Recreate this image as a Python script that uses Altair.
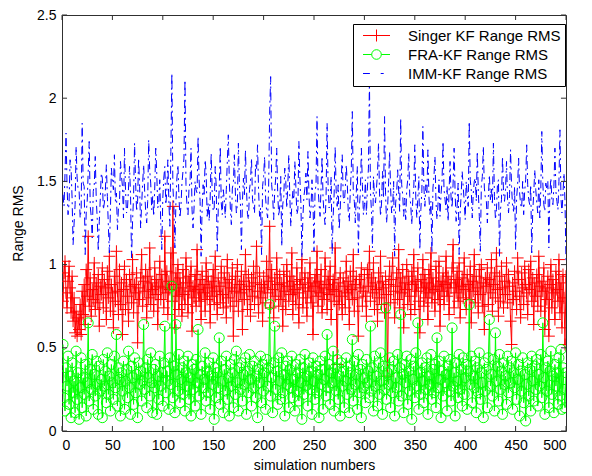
import altair as alt
import pandas as pd

imm = [
1.42,1.35,1.55,1.79,1.48,1.30,1.37,1.63,1.58,1.40,1.12,1.25,1.36,1.71,1.52,1.45,1.44,1.28,1.33,1.85,
1.49,1.47,1.06,1.31,1.38,1.56,1.74,1.35,1.29,1.16,1.44,1.48,1.65,1.39,1.27,1.08,1.26,1.40,1.55,1.52,
1.33,1.37,1.44,1.60,1.41,1.23,1.07,1.32,1.58,1.50,1.45,1.66,1.38,1.43,1.21,1.34,1.35,1.62,1.53,1.47,
1.28,1.70,1.45,1.31,1.34,1.46,1.59,1.42,1.04,1.26,1.41,1.73,1.50,1.32,1.38,1.64,1.47,1.22,1.36,1.49,
1.60,1.44,1.32,1.25,1.38,1.75,1.57,1.49,1.33,1.41,1.29,1.46,1.70,1.55,1.34,1.37,1.51,1.24,1.09,1.40,
1.52,1.59,1.36,1.44,1.63,1.38,1.23,1.68,2.15,1.47,1.35,1.10,1.37,1.52,1.60,1.41,1.28,1.35,1.49,1.56,
1.64,2.11,1.48,1.35,1.30,1.46,1.49,1.70,1.33,1.22,1.34,1.50,1.45,1.43,1.77,1.51,1.38,1.05,1.34,1.48,
1.41,1.63,1.55,1.29,1.37,1.26,1.40,1.67,1.43,1.32,1.34,1.59,1.47,1.08,1.33,1.46,1.71,1.37,1.30,1.45,
1.39,1.28,1.45,1.62,1.78,1.50,1.34,1.24,1.46,1.49,1.66,1.43,1.31,1.36,1.73,1.48,1.37,1.09,1.38,1.52,
1.42,1.69,1.46,1.30,1.27,1.45,1.50,1.64,1.39,1.35,1.31,1.60,1.57,1.72,1.45,1.29,1.34,1.06,1.47,1.53,
1.65,1.40,1.32,1.28,1.47,1.91,2.13,1.48,1.41,1.27,1.44,1.52,1.70,1.43,1.29,1.35,1.53,1.11,1.36,1.41,
1.58,1.50,1.34,1.47,1.66,1.41,1.23,1.36,1.44,1.39,1.62,1.47,1.30,1.33,1.74,1.52,1.37,1.04,1.29,1.41,
1.46,1.55,1.39,1.68,1.42,1.28,1.34,1.51,1.37,1.08,1.43,1.48,1.89,1.46,1.37,1.29,1.46,1.65,1.40,1.30,
1.24,1.42,1.85,1.47,1.34,1.38,1.53,1.06,1.29,1.43,1.71,1.44,1.35,1.48,1.21,1.33,1.50,1.66,1.41,1.37,
1.45,1.60,1.49,1.31,1.26,1.44,1.57,1.92,1.42,1.38,1.25,1.44,1.59,1.07,1.35,1.43,1.70,1.48,1.30,1.36,
1.51,1.30,1.46,1.58,2.12,1.44,1.32,1.10,1.53,1.41,1.37,1.46,1.55,1.73,1.43,1.29,1.37,1.56,1.40,1.89,
1.42,1.25,1.34,1.49,1.68,1.46,1.31,1.35,1.50,1.05,1.37,1.43,1.57,1.44,1.32,1.88,1.48,1.42,1.29,1.40,
1.27,1.45,1.51,1.67,1.41,1.36,1.24,1.39,1.46,1.72,1.40,1.28,1.40,1.53,1.09,1.33,1.44,1.83,1.47,1.35,
1.48,1.42,1.69,1.41,1.30,1.38,1.07,1.46,1.53,1.65,1.38,1.27,1.36,1.51,1.29,1.42,1.50,1.74,1.45,1.39,
1.33,1.47,1.26,1.44,1.62,1.40,1.34,1.49,1.70,1.43,1.26,1.35,1.49,1.06,1.31,1.42,1.56,1.47,1.38,1.27,
1.50,1.42,1.35,1.86,1.51,1.45,1.28,1.43,1.50,1.52,1.38,1.68,1.44,1.29,1.08,1.47,1.53,1.71,1.46,1.40,
1.38,1.25,1.41,1.54,1.39,1.46,1.36,1.73,1.41,1.27,1.33,1.48,1.51,1.05,1.33,1.39,1.65,1.44,1.38,1.45,
1.62,1.39,1.31,1.42,1.69,1.47,1.35,1.32,1.47,1.09,1.40,1.48,1.64,1.43,1.36,1.34,1.50,1.30,1.44,1.51,
1.72,1.48,1.39,1.36,1.48,1.07,1.32,1.43,1.57,1.45,1.37,1.31,1.51,1.28,1.45,1.80,1.49,1.36,1.32,1.49,
1.45,1.50,1.10,1.43,1.52,1.39,1.36,1.47,1.70,1.44,1.38,1.33,1.50,1.81,1.40,1.31,1.43,1.55,1.38,1.02,
]

singer = [
0.78,0.95,1.02,0.83,0.74,0.90,0.99,0.86,0.71,0.93,0.66,0.80,0.59,0.72,0.57,0.68,0.61,0.76,0.58,0.84,
0.70,0.88,0.64,0.97,0.81,1.17,0.75,0.92,0.69,0.85,0.79,1.01,0.73,0.89,0.77,0.94,0.63,0.87,0.82,0.98,
0.74,0.91,0.86,0.67,0.96,0.80,1.05,0.72,0.88,0.83,0.62,0.93,0.78,1.08,0.84,0.70,0.97,0.76,0.89,0.58,
0.85,0.99,0.73,0.91,0.81,0.66,0.94,0.87,0.77,1.03,0.71,0.88,0.83,0.95,0.53,0.86,0.79,0.92,1.06,0.75,
0.90,0.84,0.97,0.68,0.93,0.80,1.10,0.76,0.89,0.85,0.72,0.98,0.82,0.91,0.64,0.87,1.02,0.79,0.94,0.86,
0.74,1.17,0.83,0.96,0.70,0.90,0.85,1.07,0.78,1.35,0.88,0.62,0.95,0.81,1.00,0.73,0.92,0.86,0.69,0.97,
0.82,0.76,1.04,0.89,0.71,0.93,0.84,0.99,0.60,0.87,0.80,0.94,0.75,1.09,0.85,0.78,0.91,0.67,0.96,0.83,
0.88,0.72,1.01,0.79,0.93,0.86,0.65,0.90,0.81,0.97,0.76,1.05,0.84,0.70,0.92,0.87,0.77,0.99,0.82,0.74,
0.95,0.89,0.68,1.03,0.80,0.91,0.75,0.86,0.98,0.57,0.84,0.93,0.78,1.00,0.72,0.88,0.83,0.96,0.61,0.90,
0.79,1.06,0.85,0.73,0.94,0.87,0.69,0.92,0.81,0.99,0.76,0.89,1.11,0.84,0.71,0.95,0.80,0.88,0.66,0.93,
0.86,0.77,1.02,0.83,0.90,1.23,0.74,0.97,0.85,0.68,0.92,0.81,1.04,0.88,0.75,0.94,0.79,0.89,0.63,0.96,
0.84,0.73,1.00,0.87,0.78,0.93,0.82,1.07,0.70,0.90,0.85,0.76,0.98,0.83,0.65,0.91,0.88,1.03,0.74,0.86,
0.95,0.80,0.69,0.92,0.84,1.01,0.77,0.89,0.58,0.87,0.94,0.81,1.08,0.75,0.90,0.83,0.97,0.71,0.86,0.79,
1.04,0.88,0.73,0.93,0.82,0.99,0.67,0.85,0.91,0.78,1.10,0.84,0.40,0.89,0.76,0.95,0.81,0.70,0.92,0.87,
0.74,1.02,0.83,0.90,0.64,0.96,0.85,0.79,1.06,0.72,0.88,0.93,0.80,0.57,0.91,0.86,0.98,0.75,0.84,0.94,
0.81,0.69,0.97,0.87,1.08,0.78,0.92,0.83,1.01,0.73,0.89,0.85,0.66,0.95,0.80,1.05,0.76,0.90,0.86,0.71,
0.93,0.82,0.33,0.88,0.99,0.77,0.91,1.04,0.84,0.68,0.87,0.95,0.79,1.09,0.74,0.92,0.83,0.97,0.62,0.89,
0.85,1.00,0.76,0.93,0.81,0.70,0.96,0.88,1.06,0.73,0.90,0.84,0.98,0.78,0.59,0.91,0.86,1.03,0.75,0.94,
0.80,0.89,0.67,0.97,0.83,1.07,0.77,0.92,0.85,0.72,0.99,0.87,0.79,1.02,0.63,0.90,0.84,0.95,0.76,0.88,
1.05,0.81,0.93,0.70,0.89,0.86,0.98,1.12,0.74,0.91,0.83,0.96,0.78,1.01,0.68,0.87,0.92,0.80,1.04,0.85,
0.73,0.94,0.88,0.79,0.99,0.65,0.90,0.84,1.06,0.77,0.93,0.86,0.71,0.97,0.82,1.00,0.75,0.89,0.61,0.92,
0.87,0.98,0.76,0.91,0.83,1.03,0.72,0.88,0.95,0.80,1.07,0.85,0.69,0.93,0.78,0.99,0.86,0.74,0.90,0.82,
1.01,0.77,0.94,0.87,0.66,0.52,0.89,0.79,0.96,0.84,0.73,1.04,0.91,0.81,0.68,0.95,0.86,0.76,0.99,0.88,
0.83,0.70,0.97,0.85,1.02,0.78,0.92,0.64,0.89,0.81,0.94,0.75,1.05,0.87,0.72,0.90,0.84,0.98,0.61,0.86,
0.79,0.93,0.57,0.88,1.00,0.74,0.91,0.83,0.67,0.96,0.85,0.78,1.03,0.71,0.89,0.62,0.94,0.80,0.52,0.93,
]

fra = [
0.52,0.20,0.12,0.38,0.27,0.45,0.16,0.33,0.08,0.41,0.23,0.30,0.11,0.48,0.19,0.35,0.07,0.26,0.44,0.14,
0.32,0.22,0.40,0.09,0.29,0.65,0.18,0.37,0.25,0.46,0.13,0.34,0.21,0.42,0.28,0.10,0.39,0.24,0.31,0.08,
0.43,0.27,0.36,0.17,0.47,0.22,0.33,0.12,0.40,0.29,0.19,0.45,0.26,0.58,0.15,0.38,0.31,0.09,0.35,0.24,
0.42,0.13,0.30,0.37,0.20,0.48,0.26,0.10,0.39,0.32,0.16,0.44,0.23,0.34,0.08,0.41,0.28,0.36,0.18,0.30,
0.64,0.25,0.38,0.14,0.43,0.32,0.21,0.47,0.29,0.11,0.37,0.26,0.40,0.10,0.33,0.19,0.45,0.27,0.35,0.15,
0.41,0.63,0.23,0.36,0.30,0.13,0.44,0.28,0.87,0.20,0.39,0.11,0.64,0.34,0.24,0.46,0.17,0.31,0.38,0.22,
0.42,0.12,0.35,0.27,0.45,0.19,0.32,0.09,0.40,0.25,0.37,0.15,0.43,0.29,0.61,0.21,0.34,0.10,0.39,0.26,
0.31,0.47,0.18,0.36,0.23,0.41,0.13,0.33,0.28,0.44,0.07,0.38,0.20,0.35,0.26,0.56,0.16,0.42,0.30,0.11,
0.37,0.24,0.45,0.19,0.32,0.09,0.40,0.27,0.35,0.14,0.43,0.22,0.48,0.29,0.12,0.38,0.25,0.41,0.18,0.34,
0.28,0.44,0.10,0.36,0.23,0.46,0.31,0.15,0.39,0.26,0.42,0.20,0.33,0.08,0.37,0.29,0.45,0.17,0.40,0.24,
0.35,0.13,0.43,0.27,0.38,0.76,0.21,0.32,0.11,0.41,0.63,0.25,0.36,0.16,0.44,0.30,0.19,0.47,0.23,0.34,
0.09,0.39,0.28,0.42,0.14,0.37,0.26,0.45,0.20,0.31,0.12,0.40,0.24,0.35,0.18,0.43,0.29,0.07,0.38,0.22,
0.46,0.27,0.33,0.15,0.41,0.25,0.36,0.10,0.44,0.30,0.19,0.39,0.23,0.34,0.08,0.42,0.28,0.37,0.13,0.31,
0.45,0.21,0.58,0.26,0.40,0.16,0.35,0.29,0.48,0.12,0.38,0.24,0.43,0.19,0.33,0.09,0.41,0.27,0.36,0.14,
0.30,0.44,0.22,0.39,0.11,0.35,0.25,0.55,0.18,0.42,0.28,0.34,0.13,0.46,0.23,0.37,0.08,0.40,0.26,0.32,
0.17,0.43,0.29,0.36,0.20,0.63,0.24,0.38,0.12,0.45,0.27,0.33,0.15,0.41,0.22,0.47,0.30,0.10,0.39,0.25,
0.74,0.19,0.35,0.28,0.44,0.14,0.37,0.23,0.42,0.09,0.32,0.26,0.46,0.18,0.38,0.70,0.21,0.34,0.11,0.40,
0.29,0.45,0.16,0.36,0.24,0.43,0.07,0.31,0.39,0.20,0.47,0.27,0.65,0.13,0.35,0.22,0.41,0.30,0.17,0.38,
0.25,0.44,0.10,0.33,0.28,0.46,0.19,0.37,0.23,0.40,0.14,0.56,0.26,0.42,0.31,0.08,0.36,0.21,0.45,0.29,
0.34,0.12,0.39,0.24,0.43,0.18,0.62,0.27,0.35,0.09,0.41,0.30,0.20,0.46,0.25,0.37,0.15,0.44,0.22,0.32,
0.40,0.13,0.36,0.76,0.28,0.45,0.17,0.33,0.26,0.42,0.11,0.38,0.23,0.47,0.19,0.35,0.29,0.08,0.41,0.24,
0.37,0.14,0.44,0.67,0.27,0.34,0.21,0.43,0.12,0.59,0.30,0.39,0.18,0.46,0.25,0.36,0.10,0.41,0.28,0.33,
0.16,0.45,0.23,0.38,0.29,0.42,0.13,0.35,0.26,0.47,0.19,0.31,0.40,0.09,0.36,0.24,0.44,0.17,0.34,0.06,
0.28,0.41,0.21,0.37,0.12,0.45,0.30,0.18,0.39,0.25,0.43,0.15,0.34,0.27,0.46,0.20,0.65,0.32,0.10,0.38,
0.24,0.42,0.14,0.36,0.48,0.22,0.33,0.11,0.40,0.27,0.35,0.16,0.44,0.21,0.49,0.13,0.38,0.25,0.14,0.35,
]

sims = list(range(1, 501))
series_names = ["Singer KF Range RMS", "FRA-KF Range RMS", "IMM-KF Range RMS"]
series_colors = ["#ff0000", "#00ff00", "#0000ff"]
x_ticks = [0, 50, 100, 150, 200, 250, 300, 350, 400, 450, 500]
y_ticks = [0, 0.5, 1, 1.5, 2, 2.5]

FONT = "Liberation Sans"
CROSS = "M-1,0H1M0,-1V1"
LEG_SINGER = "M-2.25,0H2.25M0,-1V1"
LEG_FRA = "M-2.25,0H-0.8M0.8,0H2.25M-0.8,0A0.8,0.8,0,1,1,0.8,0A0.8,0.8,0,1,1,-0.8,0"
LEG_IMM = "M-2.25,0H-1.1M0.7,0H1.2"

df_s = pd.DataFrame({"sim": sims, "rms": singer})
df_f = pd.DataFrame({"sim": sims, "rms": fra})
df_i = pd.DataFrame({"sim": sims, "rms": imm})
df_leg = pd.DataFrame({"series": series_names})
df_xt = pd.DataFrame({"t": x_ticks})
df_yt = pd.DataFrame({"t": y_ticks})

xs = alt.Scale(domain=[0, 500], nice=False, zero=False)
ys = alt.Scale(domain=[0, 2.5], nice=False)

X = alt.X("sim:Q", scale=xs, title="simulation numbers",
          axis=alt.Axis(values=x_ticks, format="d", grid=False, ticks=False, domain=False,
                        labelPadding=7, titlePadding=6))
Y = alt.Y("rms:Q", scale=ys, title="Range RMS",
          axis=alt.Axis(values=y_ticks, format="~g", grid=False, ticks=False, domain=False,
                        labelPadding=6, titlePadding=11))

red_line = alt.Chart(df_s).mark_line(color="#ff0000", strokeWidth=1, clip=True).encode(x=X, y=Y)
red_pts = alt.Chart(df_s).mark_point(shape=CROSS, size=144, filled=False, color="#ff0000",
                                     strokeWidth=1, opacity=1, clip=True).encode(x="sim:Q", y="rms:Q")
green_line = alt.Chart(df_f).mark_line(color="#00ff00", strokeWidth=1, clip=True).encode(x="sim:Q", y="rms:Q")
green_pts = alt.Chart(df_f).mark_point(shape="circle", size=100, filled=False, color="#00ff00",
                                       strokeWidth=1, opacity=1, clip=True).encode(x="sim:Q", y="rms:Q")
blue_line = alt.Chart(df_i).mark_line(color="#0000ff", strokeWidth=1, strokeDash=[8, 4, 2, 4],
                                      clip=True).encode(x="sim:Q", y="rms:Q")

tick_col = "#303030"
xt_bot = alt.Chart(df_xt).mark_rule(color=tick_col, strokeWidth=1).encode(
    x=alt.X("t:Q"), y=alt.datum(0), y2=alt.datum(0.03))
xt_top = alt.Chart(df_xt).mark_rule(color=tick_col, strokeWidth=1).encode(
    x=alt.X("t:Q"), y=alt.datum(2.5), y2=alt.datum(2.47))
yt_left = alt.Chart(df_yt).mark_rule(color=tick_col, strokeWidth=1).encode(
    y=alt.Y("t:Q"), x=alt.datum(0), x2=alt.datum(5))
yt_right = alt.Chart(df_yt).mark_rule(color=tick_col, strokeWidth=1).encode(
    y=alt.Y("t:Q"), x=alt.datum(500), x2=alt.datum(495))

legend_layer = alt.Chart(df_leg).mark_point(filled=False, size=144, opacity=1, strokeWidth=1,
                                            clip=True).encode(
    x=alt.value(-300), y=alt.value(-300),
    color=alt.Color("series:N", scale=alt.Scale(domain=series_names, range=series_colors),
                    title=None,
                    legend=alt.Legend(orient="none", legendX=291, legendY=9, padding=4,
                                      strokeColor="#000000", fillColor="#ffffff",
                                      labelFont=FONT, labelFontSize=15, labelColor="#000000",
                                      symbolSize=144, symbolStrokeWidth=1, symbolOffset=12,
                                      labelOffset=24, rowPadding=3, labelLimit=300)),
    shape=alt.Shape("series:N", scale=alt.Scale(domain=series_names,
                                                 range=[LEG_SINGER, LEG_FRA, LEG_IMM]),
                    title=None),
)

chart = alt.layer(
    red_line, red_pts, green_line, green_pts, blue_line,
    xt_bot, xt_top, yt_left, yt_right, legend_layer
).properties(
    width=504, height=416,
    autosize=alt.AutoSizeParams(type="none"),
    padding={"left": 62, "top": 15, "right": 26, "bottom": 45},
    background="#ffffff",
).configure_view(
    stroke="#303030", strokeWidth=1
).configure_axis(
    labelFont=FONT, labelFontSize=14, labelColor="#000000",
    titleFont=FONT, titleFontSize=14, titleFontWeight="normal", titleColor="#000000",
)

chart.save("out.html", embed_options={"renderer": "svg", "actions": False})
